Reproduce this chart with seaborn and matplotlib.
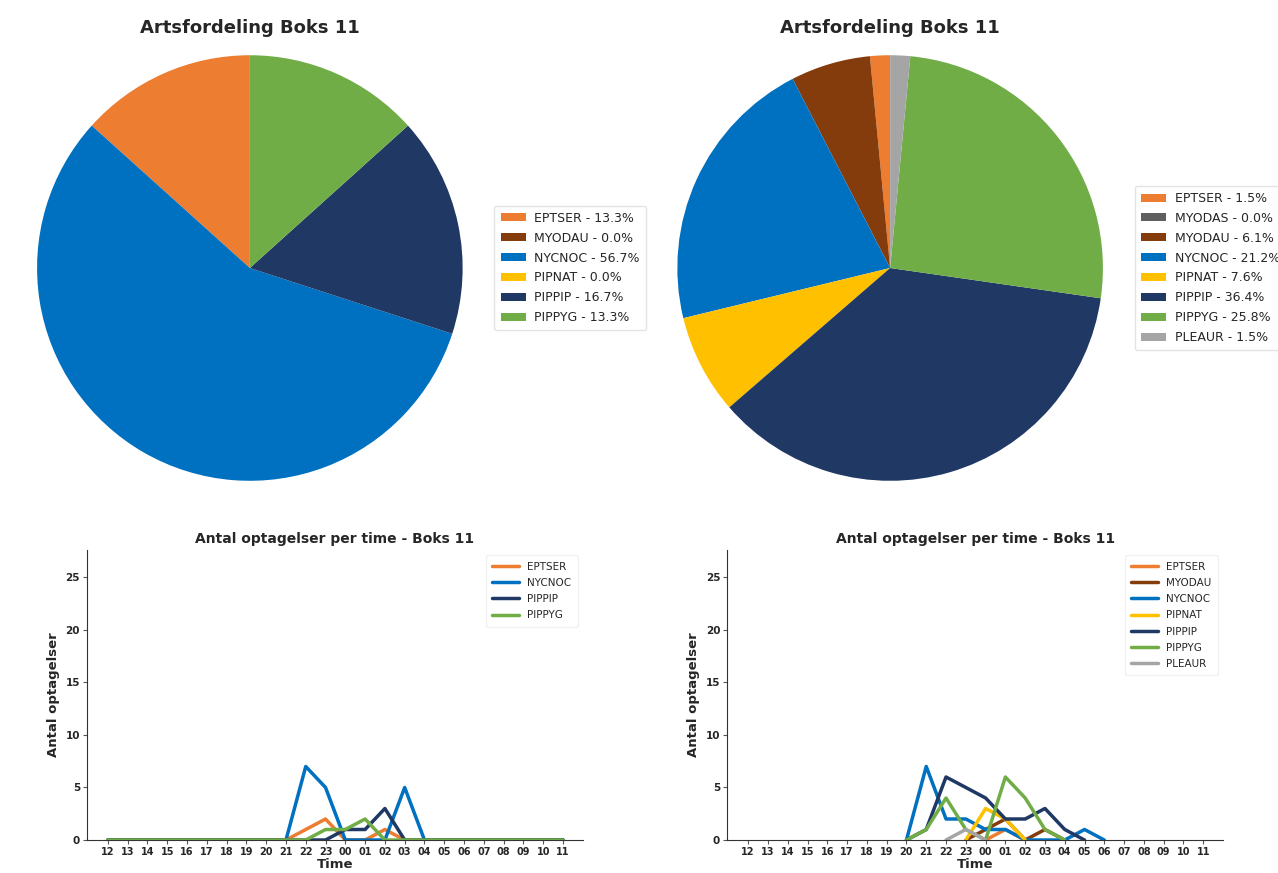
import numpy as np
import pandas as pd
import matplotlib
matplotlib.use("Agg")
import matplotlib.pyplot as plt
import seaborn as sns

sns.set_style("white")
plt.rcParams['font.family'] = ['DejaVu Sans']

# ---------------- data ----------------
hours = ["12", "13", "14", "15", "16", "17", "18", "19", "20", "21", "22", "23",
         "00", "01", "02", "03", "04", "05", "06", "07", "08", "09", "10", "11"]

colors = {
    "EPTSER": "#ED7D31",
    "MYODAS": "#5F5F5F",
    "MYODAU": "#843C0C",
    "NYCNOC": "#0070C0",
    "PIPNAT": "#FFC000",
    "PIPPIP": "#203864",
    "PIPPYG": "#70AD47",
    "PLEAUR": "#A5A5A5",
}

# left pie
pie1_species = ["EPTSER", "MYODAU", "NYCNOC", "PIPNAT", "PIPPIP", "PIPPYG"]
pie1_counts = [4, 0, 17, 0, 5, 4]

# right pie
pie2_species = ["EPTSER", "MYODAS", "MYODAU", "NYCNOC", "PIPNAT", "PIPPIP", "PIPPYG", "PLEAUR"]
pie2_counts = [1, 0, 4, 14, 5, 24, 17, 1]

nan = np.nan
# left line chart (per hour 12..11)
l_EPTSER = [0, 0, 0, 0, 0, 0, 0, 0, 0, 0, 1, 2, 0, 0, 1, 0, 0, 0, 0, 0, 0, 0, 0, 0]
l_NYCNOC = [0, 0, 0, 0, 0, 0, 0, 0, 0, 0, 7, 5, 0, 0, 0, 5, 0, 0, 0, 0, 0, 0, 0, 0]
l_PIPPIP = [0, 0, 0, 0, 0, 0, 0, 0, 0, 0, 0, 0, 1, 1, 3, 0, 0, 0, 0, 0, 0, 0, 0, 0]
l_PIPPYG = [0, 0, 0, 0, 0, 0, 0, 0, 0, 0, 0, 1, 1, 2, 0, 0, 0, 0, 0, 0, 0, 0, 0, 0]

# right line chart (per hour 12..11)
r_EPTSER = [nan]*12 + [0, 1, 0] + [nan]*9
r_MYODAU = [nan]*11 + [0, 1, 2, 0, 1, 0] + [nan]*7
r_NYCNOC = [nan]*8 + [0, 7, 2, 2, 1, 1, 0, 0, 0, 1, 0] + [nan]*5
r_PIPNAT = [nan]*11 + [0, 3, 2, 0] + [nan]*9
r_PIPPIP = [nan]*8 + [0, 1, 6, 5, 4, 2, 2, 3, 1, 0] + [nan]*6
r_PIPPYG = [nan]*8 + [0, 1, 4, 1, 0, 6, 4, 1, 0] + [nan]*7
r_PLEAUR = [nan]*10 + [0, 1, 0] + [nan]*11

left_series = {"EPTSER": l_EPTSER, "NYCNOC": l_NYCNOC, "PIPPIP": l_PIPPIP, "PIPPYG": l_PIPPYG}
right_series = {"EPTSER": r_EPTSER, "MYODAU": r_MYODAU, "NYCNOC": r_NYCNOC, "PIPNAT": r_PIPNAT,
                "PIPPIP": r_PIPPIP, "PIPPYG": r_PIPPYG, "PLEAUR": r_PLEAUR}

title_pie = "Artsfordeling Boks 11"
title_line = "Antal optagelser per time - Boks 11"

# ---------------- figure ----------------
fig = plt.figure(figsize=(12.78, 8.73), dpi=100)

def draw_pie(rect, species, counts):
    ax = fig.add_axes(rect)
    total = sum(counts)
    wedges, _ = ax.pie(counts, colors=[colors[s] for s in species], startangle=90,
                       counterclock=True, wedgeprops={"linewidth": 0})
    ax.set_xlim(-1.0, 1.0)
    ax.set_ylim(-1.0, 1.0)
    ax.set_aspect("equal")
    ax.set_title(title_pie, fontsize=13, fontweight="bold", pad=16)
    labels = [f"{s} - {100*c/total:.1f}%" for s, c in zip(species, counts)]
    leg = ax.legend(wedges, labels, loc="center left", bbox_to_anchor=(1.06, 0.5),
                    fontsize=9, frameon=True, handlelength=2.0, handleheight=0.6,
                    borderpad=0.5, labelspacing=0.55, handletextpad=0.7)
    leg.get_frame().set_edgecolor("#dddddd")
    return ax

draw_pie([0.029, 0.449, 0.333, 0.488], pie1_species, pie1_counts)
draw_pie([0.530, 0.449, 0.333, 0.488], pie2_species, pie2_counts)

def draw_lines(rect, series):
    ax = fig.add_axes(rect)
    rows = []
    for name, vals in series.items():
        for i, v in enumerate(vals):
            rows.append({"pos": i, "Species": name, "count": v})
    df = pd.DataFrame(rows).dropna()
    order = list(series.keys())
    sns.lineplot(data=df, x="pos", y="count", hue="Species", hue_order=order,
                 palette={k: colors[k] for k in order}, linewidth=2.5, ax=ax,
                 estimator=None, sort=True)
    ax.set_xticks(range(len(hours)))
    ax.set_xticklabels(hours, fontsize=7, fontweight="bold")
    ax.set_xlim(-1.06, 24.0)
    ax.set_ylim(0, 27.6)
    ax.set_yticks([0, 5, 10, 15, 20, 25])
    ax.set_yticklabels(["0", "5", "10", "15", "20", "25"], fontsize=7.5, fontweight="bold")
    ax.set_xlabel("Time", fontsize=9.5, fontweight="bold", labelpad=1)
    ax.set_ylabel("Antal optagelser", fontsize=9.5, fontweight="bold")
    ax.set_title(title_line, fontsize=10, fontweight="bold", pad=5)
    ax.tick_params(axis="both", length=3, pad=2, color="#555555")
    ax.tick_params(axis="x", bottom=True)
    ax.tick_params(axis="y", left=True)
    sns.despine(ax=ax)
    for sp in ["left", "bottom"]:
        ax.spines[sp].set_color("#333333")
        ax.spines[sp].set_linewidth(0.8)
    leg = ax.legend(loc="upper right", fontsize=7.5, frameon=True, handlelength=2.6,
                    labelspacing=0.6, borderpad=0.6, bbox_to_anchor=(1.0, 1.0))
    leg.get_frame().set_edgecolor("#eeeeee")
    for line in leg.get_lines():
        line.set_linewidth(2.5)
    return ax

draw_lines([0.068, 0.0378, 0.388, 0.332], left_series)
draw_lines([0.569, 0.0378, 0.388, 0.332], right_series)

fig.savefig("out.png", dpi=100)
